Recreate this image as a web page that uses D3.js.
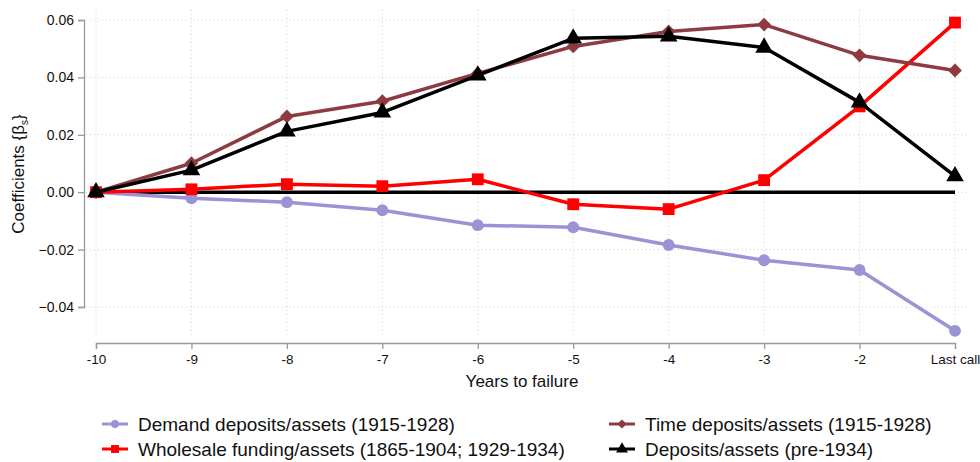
<!DOCTYPE html>
<html><head><meta charset="utf-8">
<script src="https://cdn.jsdelivr.net/npm/d3@7"></script>
<style>body{margin:0;background:#fff}svg{display:block;font-family:"Liberation Sans",Arial,sans-serif}</style>
</head><body><svg id="c" width="980" height="462"></svg>
<script>
const xLabels = ["-10","-9","-8","-7","-6","-5","-4","-3","-2","Last call"];
const yTicks = [-0.04,-0.02,0,0.02,0.04,0.06];
const demand = [0,-0.0021,-0.0035,-0.0063,-0.0115,-0.0122,-0.0184,-0.0237,-0.0271,-0.0483];
const timeDep = [0,0.0101,0.0264,0.0317,0.0414,0.0508,0.0560,0.0584,0.0477,0.0424];
const wholesale = [0,0.0010,0.0028,0.0021,0.0045,-0.0042,-0.0059,0.0042,0.0299,0.0591];
const deposits = [0,0.0077,0.0212,0.0278,0.0407,0.0536,0.0543,0.0504,0.0313,0.0056];
const seriesNames = ["Demand deposits/assets (1915-1928)","Time deposits/assets (1915-1928)","Wholesale funding/assets (1865-1904; 1929-1934)","Deposits/assets (pre-1934)"];

const svg = d3.select("#c");
const x = d3.scalePoint().domain(xLabels).range([96,955]);
const y = d3.scaleLinear().domain([-0.04,0.06]).range([307,20]);

// grid
const g = svg.append("g");
g.selectAll(".hg").data(yTicks).join("line")
 .attr("x1",86).attr("x2",968).attr("y1",d=>y(d)).attr("y2",d=>y(d))
 .attr("stroke","#d0d0d0").attr("stroke-width",1).attr("stroke-dasharray","1,3");
g.selectAll(".vg").data(xLabels).join("line")
 .attr("x1",d=>x(d)).attr("x2",d=>x(d)).attr("y1",10).attr("y2",336)
 .attr("stroke","#d0d0d0").attr("stroke-width",1).attr("stroke-dasharray","1,3");

// y axis
const ya = svg.append("g").attr("transform","translate(84,0)")
 .call(d3.axisLeft(y).tickValues(yTicks).tickFormat(d3.format(".2f")).tickSize(6).tickPadding(4));
ya.select(".domain").attr("stroke","#999").attr("stroke-width",1.3);
ya.selectAll(".tick line").attr("stroke","#999").attr("stroke-width",1.3);
ya.selectAll("text").attr("font-size",14).attr("fill","#111").attr("font-family","Liberation Sans, Arial");

// x axis
const xa = svg.append("g").attr("transform","translate(0,343)")
 .call(d3.axisBottom(x).tickSize(6).tickPadding(5));
xa.select(".domain").attr("stroke","#999").attr("stroke-width",1.3);
xa.selectAll(".tick line").attr("stroke","#999").attr("stroke-width",1.3);
xa.selectAll("text").attr("font-size",13.5).attr("fill","#111").attr("font-family","Liberation Sans, Arial");

svg.append("text").attr("x",522).attr("y",387).attr("text-anchor","middle")
 .attr("font-size",17).attr("fill","#111").text("Years to failure");
const yl = svg.append("text").attr("transform","translate(24,174) rotate(-90)").attr("text-anchor","middle")
 .attr("font-size",17).attr("fill","#111");
yl.append("tspan").text("Coefficients {β");
yl.append("tspan").attr("font-size",10).attr("dy",4).text("s");
yl.append("tspan").attr("dy",-4).text("}");

const line = d3.line().x((d,i)=>x(xLabels[i])).y(d=>y(d));
const series = [
 {name:seriesNames[0], data:demand, color:"#9a93d5", sym:d3.symbolCircle, size:110, rot:0},
 {name:seriesNames[2], data:wholesale, color:"#ff0000", sym:d3.symbolSquare, size:140, rot:0},
 {name:seriesNames[1], data:timeDep, color:"#8e3a41", sym:d3.symbolSquare, size:95, rot:45},
 {name:seriesNames[3], data:deposits, color:"#000000", sym:d3.symbolTriangle, size:135, rot:0}
];

// zero line
svg.append("line").attr("x1",x("-10")).attr("x2",x("Last call")).attr("y1",y(0)).attr("y2",y(0))
 .attr("stroke","#000").attr("stroke-width",3.5);

series.forEach(s=>{
  svg.append("path").attr("d",line(s.data)).attr("fill","none").attr("stroke",s.color)
   .attr("stroke-width",3.5).attr("stroke-linejoin","round");
  svg.selectAll(null).data(s.data).join("path")
   .attr("transform",(d,i)=>`translate(${x(xLabels[i])},${y(d)}) rotate(${s.rot})`)
   .attr("d",d3.symbol().type(s.sym).size(s.size)).attr("fill",s.color);
});

// legend
const leg = [
 {s:series[0], lx:115, ly:424},
 {s:series[1], lx:115, ly:449},
 {s:series[2], lx:622, ly:424},
 {s:series[3], lx:622, ly:449}
];
leg.forEach(l=>{
  svg.append("line").attr("x1",l.lx-13).attr("x2",l.lx+13).attr("y1",l.ly).attr("y2",l.ly)
   .attr("stroke",l.s.color).attr("stroke-width",3);
  svg.append("path").attr("transform",`translate(${l.lx},${l.ly}) rotate(${l.s.rot})`)
   .attr("d",d3.symbol().type(l.s.sym).size(l.s.size*0.45)).attr("fill",l.s.color);
  svg.append("text").attr("x",l.lx+23).attr("y",l.ly+7).attr("font-size",19).attr("fill","#111").text(l.s.name);
});
</script></body></html>
